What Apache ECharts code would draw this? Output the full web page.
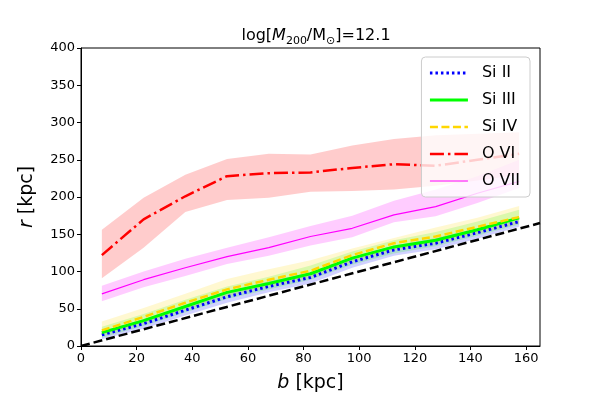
<!DOCTYPE html>
<html>
<head>
<meta charset="utf-8">
<script src="https://cdn.jsdelivr.net/npm/echarts@6/dist/echarts.min.js"></script>
<style>
html,body{margin:0;padding:0;background:#fff;}
#chart{width:600px;height:400px;}
</style>
</head>
<body>
<div id="chart"></div>
<script>
// impact parameter bins (kpc)
var bins = [7.5, 22.5, 37.5, 52.5, 67.5, 82.5, 97.5, 112.5, 127.5, 142.5, 157.5];

var si2 = [15, 30, 48, 66, 80, 92, 113, 129, 138, 152, 167];
var si2Lo = [9, 23, 41, 58, 72, 84, 105, 121, 130, 144, 160];
var si2Hi = [20, 36, 54, 72, 87, 99, 119, 135, 145, 158, 173];

var si3 = [18, 34, 53, 72, 84, 97, 118, 133, 142, 156, 172];
var si3Lo = [11, 27, 45, 63, 76, 89, 109, 124, 134, 148, 163];
var si3Hi = [26, 43, 62, 80, 93, 108, 127, 142, 153, 167, 183];

var si4 = [21, 39, 58, 76, 89, 101, 122, 138, 147, 160, 173];
var si4Lo = [14, 31, 49, 67, 80, 92, 113, 129, 138, 151, 164];
var si4Hi = [33, 51, 70, 90, 103, 115, 131, 145, 159, 172, 188];

var o6 = [122, 170, 201, 228, 232, 233, 239, 244, 242, 250, 258];
var o6Lo = [91, 132, 180, 196, 199, 207, 208, 210, 215, 222, 230];
var o6Hi = [156, 199, 230, 251, 258, 257, 269, 278, 283, 285, 287];

var o7 = [70, 89, 105, 120, 132, 147, 158, 176, 187, 205, 221];
var o7Lo = [60, 79, 94, 110, 121, 135, 146, 166, 174, 192, 212];
var o7Hi = [81, 100, 117, 132, 146, 161, 175, 195, 210, 228, 250];

// r = b reference line
var diagB = [0, 165];
var diagR = [0, 165];

var xTicks = [0, 20, 40, 60, 80, 100, 120, 140, 160];

var font = "DejaVu Sans";

var styles = {
    "Si II": {color: "#0000ff", width: 3, type: [2.5, 3]},
    "Si III": {color: "#00ff00", width: 3, type: "solid"},
    "Si IV": {color: "#ffd700", width: 2.5, type: [8, 3.5]},
    "O VI": {color: "#ff0000", width: 2.5, type: [14, 4, 2.5, 4]},
    "O VII": {color: "#ff00ff", width: 1.2, type: "solid"}
};

function pairs(xs, ys){
    return xs.map(function(x, i){ return [x, ys[i]]; });
}

function band(lo, hi, fill){
    return {
        type: "custom",
        silent: true,
        z: 1,
        clip: true,
        data: [0],
        renderItem: function(params, api){
            var pts = [];
            for(var i = 0; i < bins.length; i++) pts.push(api.coord([bins[i], hi[i]]));
            for(var j = bins.length - 1; j >= 0; j--) pts.push(api.coord([bins[j], lo[j]]));
            return {type: "polygon", shape: {points: pts}, style: {fill: fill}};
        }
    };
}

function line(name, ys){
    var s = styles[name];
    return {
        type: "line",
        name: name,
        data: pairs(bins, ys),
        symbol: "none",
        z: 2,
        lineStyle: {color: s.color, width: s.width, type: s.type},
        itemStyle: {color: s.color}
    };
}

function legendItem(name){
    var s = styles[name];
    return {name: name, lineStyle: {color: s.color, width: s.width, type: s.type}, itemStyle: {opacity: 0}};
}

var chart = echarts.init(document.getElementById("chart"));
chart.setOption({
    animation: false,
    title: {
        text: "{n|log[}{i|M}{s|200}{n|/M}{s|⊙}{n|]=12.1}",
        left: 311,
        textAlign: "center",
        top: 20,
        textStyle: {
            fontWeight: "normal",
            rich: {
                n: {fontFamily: font, fontSize: 16, fontWeight: "normal", color: "#000", lineHeight: 22, verticalAlign: "middle"},
                i: {fontFamily: font, fontSize: 16, fontWeight: "normal", fontStyle: "italic", color: "#000", lineHeight: 22, verticalAlign: "middle"},
                s: {fontFamily: font, fontSize: 11, fontWeight: "normal", color: "#000", lineHeight: 11, verticalAlign: "bottom"}
            }
        }
    },
    grid: {left: 81, right: 60, top: 48, bottom: 54, show: true, borderColor: "#000", borderWidth: 1, backgroundColor: "transparent"},
    legend: {
        data: ["Si II", "Si III", "Si IV", "O VI", "O VII"].map(legendItem),
        orient: "vertical",
        right: 70,
        top: 57,
        padding: [8, 10, 8, 7],
        itemGap: 11,
        itemWidth: 38,
        itemHeight: 14,
        itemStyle: {opacity: 0},
        backgroundColor: "rgba(255,255,255,0.8)",
        borderColor: "#cccccc",
        borderWidth: 1,
        borderRadius: 4,
        textStyle: {fontFamily: font, fontSize: 16, color: "#000", padding: [0, 0, 0, 9]}
    },
    xAxis: {
        type: "value",
        min: 0,
        max: 165,
        interval: 20,
        name: "{i|b} [kpc]",
        nameLocation: "middle",
        nameGap: 28,
        nameTextStyle: {
            fontFamily: font, fontSize: 19, color: "#000",
            rich: {i: {fontFamily: font, fontSize: 19, fontStyle: "italic", color: "#000"}}
        },
        splitLine: {show: false},
        axisLine: {lineStyle: {color: "#000", width: 1}},
        axisTick: {length: 4, lineStyle: {color: "#000"}, customValues: xTicks},
        axisLabel: {fontFamily: font, fontSize: 13, color: "#000", margin: 6, customValues: xTicks}
    },
    yAxis: {
        type: "value",
        min: 0,
        max: 400,
        interval: 50,
        name: "{i|r} [kpc]",
        nameLocation: "middle",
        nameGap: 44,
        nameRotate: 90,
        nameTextStyle: {
            fontFamily: font, fontSize: 19, color: "#000",
            rich: {i: {fontFamily: font, fontSize: 19, fontStyle: "italic", color: "#000"}}
        },
        splitLine: {show: false},
        axisLine: {show: true, lineStyle: {color: "#000", width: 1}},
        axisTick: {show: true, length: 4, lineStyle: {color: "#000"}},
        axisLabel: {fontFamily: font, fontSize: 13, color: "#000", margin: 6}
    },
    series: [
        band(si2Lo, si2Hi, "rgba(0,0,255,0.18)"),
        band(si3Lo, si3Hi, "rgba(0,255,0,0.18)"),
        band(si4Lo, si4Hi, "rgba(255,215,0,0.18)"),
        band(o6Lo, o6Hi, "rgba(255,0,0,0.2)"),
        band(o7Lo, o7Hi, "rgba(255,0,255,0.2)"),
        line("Si II", si2),
        line("Si III", si3),
        line("Si IV", si4),
        line("O VI", o6),
        line("O VII", o7),
        {
            type: "line",
            data: pairs(diagB, diagR),
            symbol: "none",
            z: 3,
            clip: true,
            lineStyle: {color: "#000", width: 2.5, type: [9, 4]}
        }
    ]
});
</script>
</body>
</html>
